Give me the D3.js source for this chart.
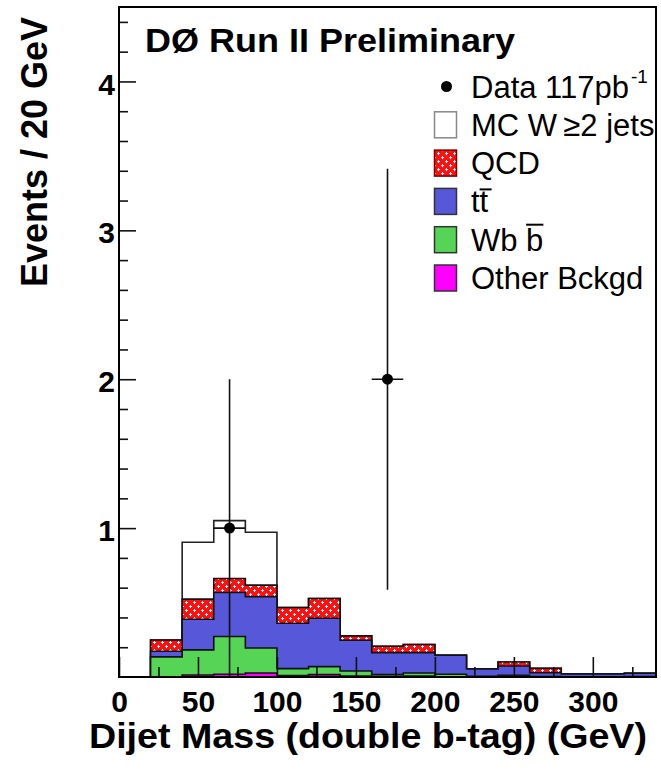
<!DOCTYPE html>
<html>
<head>
<meta charset="utf-8">
<script src="https://cdn.jsdelivr.net/npm/d3@7"></script>
<style>
  body { margin: 0; background: #fff; }
  svg { display: block; font-family: "Liberation Sans", Arial, sans-serif; }
</style>
</head>
<body>
<svg id="chart" width="661" height="782"></svg>
<script>
// bins are 20 GeV wide, low edges
const binLow = [0, 20, 40, 60, 80, 100, 120, 140, 160, 180, 200, 220, 240, 260, 280, 300, 320]
const binHigh = 340

// per-bin contributions (events / 20 GeV), stacked bottom -> top
const otherBkg = [0, 0, 0.013, 0.018, 0.027, 0.009, 0.016, 0.007, 0.004, 0.007, 0.002, 0, 0.002, 0, 0, 0, 0]
const wbb      = [0, 0.135, 0.169, 0.254, 0.168, 0.047, 0.054, 0.033, 0.013, 0.020, 0.016, 0.004, 0.009, 0.003, 0.002, 0.002, 0.003]
const ttbar    = [0, 0.038, 0.206, 0.296, 0.344, 0.305, 0.325, 0.207, 0.147, 0.137, 0.128, 0.050, 0.063, 0.026, 0.018, 0.018, 0.022]
const qcd      = [0, 0.076, 0.135, 0.094, 0.078, 0.106, 0.132, 0.029, 0.043, 0.054, 0, 0, 0.027, 0.029, 0, 0, 0]
const wjets    = [0, 0, 0.382, 0.388, 0.355, 0, 0, 0, 0, 0, 0, 0, 0, 0, 0, 0, 0]

// observed events per bin
const dataCounts = [0, 0, 0, 1, 0, 0, 0, 0, 2, 0, 0, 0, 0, 0, 0, 0, 0]

const xTicks = [0, 50, 100, 150, 200, 250, 300]
const xMinor = [25, 75, 125, 175, 225, 275, 325]
const yTicks = [1, 2, 3, 4]
const yMinor = [0.2, 0.4, 0.6, 0.8, 1.2, 1.4, 1.6, 1.8, 2.2, 2.4, 2.6, 2.8, 3.2, 3.4, 3.6, 3.8, 4.2, 4.4]

const keys = ["other", "wbb", "ttbar", "qcd", "wjets"]
const fills = { other: "#ff00ff", wbb: "#55d455", ttbar: "#5757d9", qcd: "url(#qcdPat)", wjets: "#ffffff" }

const rows = binLow.map((lo, i) => ({
    lo: lo,
    other: otherBkg[i],
    wbb: wbb[i],
    ttbar: ttbar[i],
    qcd: qcd[i],
    wjets: wjets[i]
}))

const frameL = 119, frameR = 656, frameT = 7, frameB = 677
const x = d3.scaleLinear().domain([0, binHigh]).range([frameL, frameR])
const y = d3.scaleLinear().domain([0, 4.5]).range([frameB, frameT])

const svg = d3.select("#chart")

// red hatched fill like ROOT's QCD style
const pat = svg.append("defs").append("pattern")
    .attr("id", "qcdPat")
    .attr("patternUnits", "userSpaceOnUse")
    .attr("width", 8).attr("height", 8)
pat.append("rect").attr("width", 8).attr("height", 8).attr("fill", "#ff1010")
pat.selectAll("rect.w")
    .data([[1, 2, 3, 1], [2, 1, 1, 3], [5, 6, 3, 1], [6, 5, 1, 3]])
    .enter().append("rect")
    .attr("class", "w")
    .attr("x", d => d[0]).attr("y", d => d[1])
    .attr("width", d => d[2]).attr("height", d => d[3])
    .attr("fill", "#fff")

const series = d3.stack().keys(keys)(rows)

const area = d3.area()
    .curve(d3.curveStepAfter)
    .x(d => x(d[0]))
    .y0(y(0))
    .y1(d => y(d[1]))

// draw cumulative histos from the top layer down, like THStack
const layers = series.slice().reverse()
svg.append("g").selectAll("path")
    .data(layers)
    .enter()
    .append("path")
    .attr("d", s => {
        const pts = s.map((d, i) => [binLow[i], d[1]])
        pts.push([binHigh, s[s.length - 1][1]])
        return area(pts)
    })
    .attr("fill", s => fills[s.key])
    .attr("stroke", s => s.key === "wjets" ? "#222" : "#111")
    .attr("stroke-width", 1.6)

// data points with sqrt(N) errors
const pts = rows.map((r, i) => ({ c: r.lo + 10, n: dataCounts[i] })).filter(d => d.n > 0)
const dg = svg.append("g")
dg.selectAll("line.v")
    .data(pts).enter().append("line")
    .attr("x1", d => x(d.c)).attr("x2", d => x(d.c))
    .attr("y1", d => y(d.n + Math.sqrt(d.n)))
    .attr("y2", d => y(Math.max(0, d.n - Math.sqrt(d.n))))
    .attr("stroke", "#111").attr("stroke-width", 1.6)
dg.selectAll("line.h")
    .data(pts).enter().append("line")
    .attr("x1", d => x(d.c - 10)).attr("x2", d => x(d.c + 10))
    .attr("y1", d => y(d.n)).attr("y2", d => y(d.n))
    .attr("stroke", "#111").attr("stroke-width", 1.6)
dg.selectAll("circle")
    .data(pts).enter().append("circle")
    .attr("cx", d => x(d.c)).attr("cy", d => y(d.n))
    .attr("r", 5.5)
    .attr("fill", "#000")

// axes, ticks point inward
const xa = svg.append("g").attr("transform", `translate(0,${frameB})`)
    .call(d3.axisBottom(x).tickValues(xTicks).tickSize(-20).tickPadding(14).tickFormat(d3.format("d")))
svg.append("g").attr("transform", `translate(0,${frameB})`)
    .call(d3.axisBottom(x).tickValues(xMinor).tickSize(-10).tickFormat(""))
const ya = svg.append("g").attr("transform", `translate(${frameL},0)`)
    .call(d3.axisLeft(y).tickValues(yTicks).tickSize(-17).tickPadding(4).tickFormat(d3.format("d")))
svg.append("g").attr("transform", `translate(${frameL},0)`)
    .call(d3.axisLeft(y).tickValues(yMinor).tickSize(-9).tickFormat(""))

svg.selectAll(".domain").remove()
svg.selectAll(".tick line").attr("stroke", "#111").attr("stroke-width", 1.6)
svg.selectAll(".tick text")
    .attr("font-family", "'Liberation Sans', Arial, sans-serif")
    .attr("font-size", 30)
    .attr("font-weight", "bold")
    .attr("fill", "#000")
ya.selectAll(".tick text").attr("dy", "0.42em")

// frame
svg.append("rect")
    .attr("x", frameL).attr("y", frameT)
    .attr("width", frameR - frameL).attr("height", frameB - frameT)
    .attr("fill", "none")
    .attr("stroke", "#000")
    .attr("stroke-width", 2)

// titles
svg.append("text")
    .attr("x", 145).attr("y", 52)
    .attr("font-size", 34).attr("font-weight", "bold")
    .attr("textLength", 370).attr("lengthAdjust", "spacingAndGlyphs")
    .text("DØ Run II Preliminary")

svg.append("text")
    .attr("x", 368).attr("y", 748)
    .attr("text-anchor", "middle")
    .attr("font-size", 35).attr("font-weight", "bold")
    .attr("textLength", 558).attr("lengthAdjust", "spacingAndGlyphs")
    .text("Dijet Mass (double b-tag)  (GeV)")

svg.append("text")
    .attr("transform", "translate(47,152) rotate(-90)")
    .attr("text-anchor", "middle")
    .attr("font-size", 36).attr("font-weight", "bold")
    .attr("textLength", 270).attr("lengthAdjust", "spacingAndGlyphs")
    .text("Events / 20 GeV")

// legend
const legItems = [
    { label: "Data 117pb", kind: "dot" },
    { label: "MC W\u2009\u22652 jets", kind: "box", fill: "#fff", stroke: "#888" },
    { label: "QCD", kind: "box", fill: "url(#qcdPat)", stroke: "#7a0000" },
    { label: "tt", kind: "box", fill: fills.ttbar, stroke: "#333", bar: 1, barY: -12 },
    { label: "Wb b", kind: "box", fill: fills.wbb, stroke: "#333", bar: 3, barY: -15 },
    { label: "Other Bckgd", kind: "box", fill: fills.other, stroke: "#333" }
]
const leg = svg.append("g")
const li = leg.selectAll("g")
    .data(legItems)
    .enter().append("g")
    .attr("transform", (d, i) => `translate(0,${86.5 + i * 38.3})`)

li.filter(d => d.kind === "dot").append("circle")
    .attr("cx", 446.5).attr("cy", 0).attr("r", 5.5).attr("fill", "#000")
li.filter(d => d.kind === "box").append("rect")
    .attr("x", 434.5).attr("y", -13)
    .attr("width", 22).attr("height", 26)
    .attr("fill", d => d.fill)
    .attr("stroke", d => d.stroke)
    .attr("stroke-width", 1.5)

const lt = li.append("text")
    .attr("x", 471).attr("y", 11)
    .attr("font-size", 31)
    .attr("fill", "#000")
    .text(d => d.label)

// superscript on the luminosity
li.filter(d => d.kind === "dot").append("text")
    .attr("x", 471 + lt.nodes()[0].getComputedTextLength() + 2)
    .attr("y", -4)
    .attr("font-size", 19)
    .text("-1")

// bars over the anti-quarks
lt.each(function (d) {
    if (d.bar === undefined) return
    const x0 = 471 + this.getSubStringLength(0, d.bar)
    const w = Math.max(this.getSubStringLength(d.bar, 1), 12)
    d3.select(this.parentNode).append("line")
        .attr("x1", x0).attr("x2", x0 + w)
        .attr("y1", d.barY).attr("y2", d.barY)
        .attr("stroke", "#000").attr("stroke-width", 2)
})
</script>
</body>
</html>
